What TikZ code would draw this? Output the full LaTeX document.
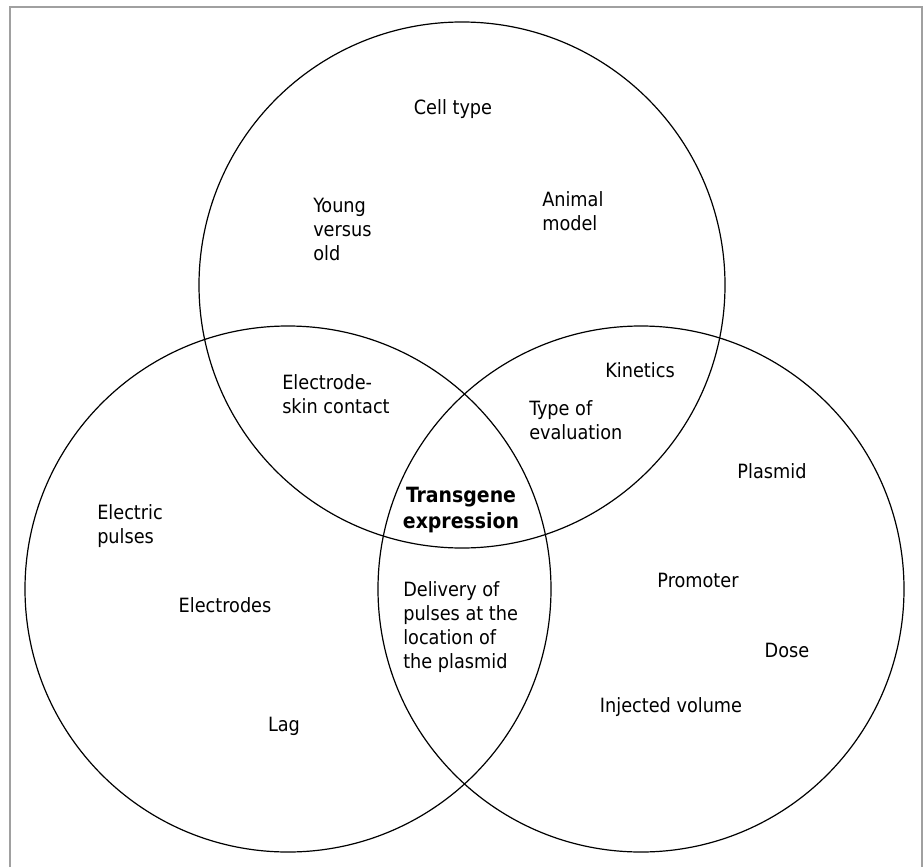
\documentclass[tikz,border=0pt]{standalone}
\usepackage{fontspec}
\usepackage{tikz}
\usetikzlibrary{
	positioning
}
\setmainfont{DejaVu Sans Condensed}
\definecolor{FrameGray}{RGB}{160,160,160}
\newcommand{\vennfont}{\fontsize{14.75}{18}\selectfont}
\newcommand{\venncore}{\fontsize{15.75}{19}\selectfont\bfseries}

\begin{document}
\begin{tikzpicture}[x=0.75pt, y=-0.75pt,
		lbl/.style={font=\vennfont, inner sep=0pt, align=left},
		lblc/.style={lbl, align=center},
		ring/.style={line width=0.9pt, black}]
		\useasboundingbox (0,0) rectangle (924,867);
		% open frame, no bottom edge
		\draw[FrameGray, line width=1.2pt] (10,867) -- (10,7) -- (922,7) -- (922,867);
		
		\coordinate (T) at (462,285);
		\coordinate (L) at (288,589);
		\coordinate (R) at (641,589);
		
		\draw[ring] (T) circle (263);
		\draw[ring] (L) circle (263);
		\draw[ring] (R) circle (263);
		
		% top circle
		\node[lblc] (celltype) at (453,109) {Cell type};
		\node[lbl, anchor=west] (young) at (313,229) {Young\\versus\\old};
		\node[lbl, anchor=west] (animal) at (542,211) {Animal\\model};
		% overlaps
		\node[lbl, anchor=west] (contact) at (282,394) {Electrode-\\skin contact};
		\node[lblc] (kinetics) at (640,370) {Kinetics};
		\node[lbl, anchor=west] (evaluation) at (529,420) {Type of\\evaluation};
		\node[lblc, font=\venncore] (transgene) at (461,510) {Transgene\\expression};
		\node[lbl, anchor=west] (delivery) at (403,627) {Delivery of\\pulses at the\\location of\\the plasmid};
		% left circle
		\node[lbl, anchor=west] (electric) at (97,526) {Electric\\pulses};
		\node[lblc] (electrodes) at (225,605) {Electrodes};
		\node[lblc] (lag) at (284,726) {Lag};
		% right circle
		\node[lblc] (plasmid) at (772,471) {Plasmid};
		\node[lblc] (promoter) at (698,580) {Promoter};
		\node[lblc] (dose) at (787,650) {Dose};
		\node[lblc] (injected) at (671,707) {Injected volume};
	\end{tikzpicture}
\end{document}
